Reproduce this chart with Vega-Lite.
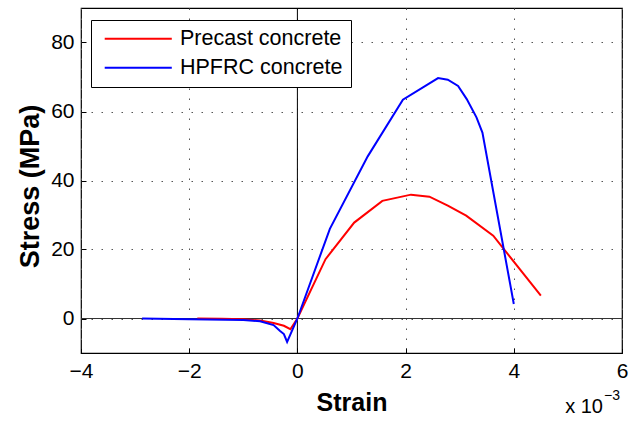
{
  "$schema": "https://vega.github.io/schema/vega-lite/v6.json",
  "width": 541,
  "height": 345,
  "autosize": {"type": "none"},
  "padding": {"left": 81, "top": 8, "right": 7, "bottom": 69},
  "background": "white",
  "config": {
    "font": "Liberation Sans",
    "view": {"stroke": "black", "strokeWidth": 1.2},
    "axis": {
      "labelFont": "Liberation Sans",
      "titleFont": "Liberation Sans",
      "labelColor": "black",
      "titleColor": "black",
      "domain": false,
      "grid": true,
      "gridColor": "#555555",
      "gridDash": [1.5, 8.5],
      "gridWidth": 1,
      "ticks": true,
      "tickColor": "black",
      "tickSize": -5,
      "labelFontSize": 21
    }
  },
  "datasets": {
    "one": [{"k": 0}],
    "curves": [
      {"material": "Precast concrete", "i": 0, "strain": -1.85, "stress": 0.0},
      {"material": "Precast concrete", "i": 1, "strain": -1.4, "stress": -0.05},
      {"material": "Precast concrete", "i": 2, "strain": -1.0, "stress": -0.2},
      {"material": "Precast concrete", "i": 3, "strain": -0.69, "stress": -0.6},
      {"material": "Precast concrete", "i": 4, "strain": -0.44, "stress": -1.3},
      {"material": "Precast concrete", "i": 5, "strain": -0.25, "stress": -2.1},
      {"material": "Precast concrete", "i": 6, "strain": -0.13, "stress": -3.1},
      {"material": "Precast concrete", "i": 7, "strain": 0.0, "stress": 0.0},
      {"material": "Precast concrete", "i": 8, "strain": 0.52, "stress": 17.2},
      {"material": "Precast concrete", "i": 9, "strain": 1.05, "stress": 27.8},
      {"material": "Precast concrete", "i": 10, "strain": 1.57, "stress": 34.1},
      {"material": "Precast concrete", "i": 11, "strain": 2.1, "stress": 35.9},
      {"material": "Precast concrete", "i": 12, "strain": 2.44, "stress": 35.3},
      {"material": "Precast concrete", "i": 13, "strain": 2.78, "stress": 32.7},
      {"material": "Precast concrete", "i": 14, "strain": 3.12, "stress": 29.8},
      {"material": "Precast concrete", "i": 15, "strain": 3.62, "stress": 24.0},
      {"material": "Precast concrete", "i": 16, "strain": 4.5, "stress": 6.6},
      {"material": "HPFRC concrete", "i": 0, "strain": -2.87, "stress": 0.0},
      {"material": "HPFRC concrete", "i": 1, "strain": -2.0, "stress": -0.2},
      {"material": "HPFRC concrete", "i": 2, "strain": -1.0, "stress": -0.4},
      {"material": "HPFRC concrete", "i": 3, "strain": -0.69, "stress": -0.8},
      {"material": "HPFRC concrete", "i": 4, "strain": -0.44, "stress": -1.9},
      {"material": "HPFRC concrete", "i": 5, "strain": -0.32, "stress": -3.6},
      {"material": "HPFRC concrete", "i": 6, "strain": -0.25, "stress": -4.5},
      {"material": "HPFRC concrete", "i": 7, "strain": -0.19, "stress": -6.8},
      {"material": "HPFRC concrete", "i": 8, "strain": 0.0, "stress": 0.0},
      {"material": "HPFRC concrete", "i": 9, "strain": 0.6, "stress": 26.0},
      {"material": "HPFRC concrete", "i": 10, "strain": 1.3, "stress": 47.0},
      {"material": "HPFRC concrete", "i": 11, "strain": 1.95, "stress": 63.4},
      {"material": "HPFRC concrete", "i": 12, "strain": 2.6, "stress": 69.7},
      {"material": "HPFRC concrete", "i": 13, "strain": 2.78, "stress": 69.2},
      {"material": "HPFRC concrete", "i": 14, "strain": 2.97, "stress": 67.4},
      {"material": "HPFRC concrete", "i": 15, "strain": 3.13, "stress": 63.6},
      {"material": "HPFRC concrete", "i": 16, "strain": 3.31, "stress": 58.3},
      {"material": "HPFRC concrete", "i": 17, "strain": 3.42, "stress": 53.9},
      {"material": "HPFRC concrete", "i": 18, "strain": 4.0, "stress": 4.2}
    ]
  },
  "layer": [
    {
      "data": {"name": "one"},
      "mark": {"type": "rule", "color": "black", "strokeWidth": 1},
      "encoding": {
        "x": {"datum": 0, "type": "quantitative", "scale": {"domain": [-4, 6], "nice": false, "zero": false}}
      }
    },
    {
      "data": {"name": "one"},
      "mark": {"type": "rule", "color": "#333333", "strokeWidth": 1},
      "encoding": {
        "y": {"datum": 0, "type": "quantitative", "scale": {"domain": [-10, 90], "nice": false, "zero": false}}
      }
    },
    {
      "data": {"name": "curves"},
      "mark": {"type": "line", "strokeWidth": 2, "clip": true},
      "encoding": {
        "x": {
          "field": "strain",
          "type": "quantitative",
          "scale": {"domain": [-4, 6], "nice": false, "zero": false},
          "axis": {
            "values": [-4, -2, 0, 2, 4, 6],
            "title": "Strain",
            "titleFontSize": 25,
            "titleFontWeight": "bold",
            "titleBaseline": "alphabetic",
            "titleY": 57,
            "labelPadding": 12,
            "labelFlush": false
          }
        },
        "y": {
          "field": "stress",
          "type": "quantitative",
          "scale": {"domain": [-10, 90], "nice": false, "zero": false},
          "axis": {
            "values": [0, 20, 40, 60, 80],
            "title": "Stress (MPa)",
            "titleFontSize": 27,
            "titleFontWeight": "bold",
            "titleBaseline": "alphabetic",
            "titleAlign": "center",
            "titleAngle": -90,
            "titleX": -43,
            "titleY": 178,
            "labelPadding": 12,
            "labelFlush": false
          }
        },
        "color": {
          "field": "material",
          "type": "nominal",
          "scale": {"domain": ["Precast concrete", "HPFRC concrete"], "range": ["#ff0000", "#0000ff"]},
          "legend": {
            "title": null,
            "orient": "none",
            "legendX": 10,
            "legendY": 12,
            "direction": "vertical",
            "symbolType": "M-10,0H10",
            "symbolSize": 45,
            "symbolStrokeWidth": 2,
            "symbolOffset": 28.5,
            "labelOffset": 31,
            "labelFontSize": 21.5,
            "labelFont": "Liberation Sans",
            "labelColor": "black",
            "labelLimit": 400,
            "rowPadding": 6,
            "padding": 8,
            "strokeColor": "black",
            "fillColor": "white",
            "cornerRadius": 0
          }
        },
        "order": {"field": "i", "type": "quantitative"}
      }
    },
    {
      "data": {"name": "one"},
      "mark": {"type": "text", "text": "x 10", "align": "right", "baseline": "alphabetic", "fontSize": 20, "dx": -19, "dy": 60, "color": "black"},
      "encoding": {
        "x": {"datum": 6, "type": "quantitative"},
        "y": {"datum": -10, "type": "quantitative"}
      }
    },
    {
      "data": {"name": "one"},
      "mark": {"type": "text", "text": "−3", "align": "left", "baseline": "alphabetic", "fontSize": 14, "dx": -18, "dy": 47, "color": "black"},
      "encoding": {
        "x": {"datum": 6, "type": "quantitative"},
        "y": {"datum": -10, "type": "quantitative"}
      }
    }
  ]
}
